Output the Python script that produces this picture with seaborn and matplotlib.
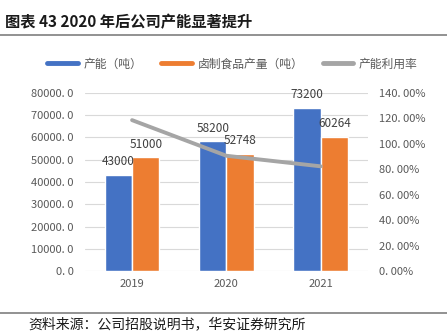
import matplotlib
matplotlib.use("Agg")
import matplotlib.pyplot as plt
import seaborn as sns
import pandas as pd
from matplotlib.lines import Line2D

years = ["2019", "2020", "2021"]
capacity = [43000, 58200, 73200]
production = [51000, 52748, 60264]
utilization = [118.6, 90.6, 82.3]
series_names = ["产能（吨）", "卤制食品产量（吨）", "产能利用率"]
left_ticks = [0, 10000, 20000, 30000, 40000, 50000, 60000, 70000, 80000]
right_ticks = [0, 20, 40, 60, 80, 100, 120, 140]

sns.set_style("white")
plt.rcParams['font.family'] = ['Noto Sans CJK SC', 'DejaVu Sans']

blue = "#4472C4"
orange = "#ED7D31"
gray = "#A5A5A5"
tick_color = "#595959"

df = pd.DataFrame({
    "year": years * 2,
    "value": capacity + production,
    "series": [series_names[0]] * 3 + [series_names[1]] * 3,
})

fig = plt.figure(figsize=(4.47, 3.33), dpi=100)
ax = fig.add_axes([0.19, 0.186, 0.633, 0.535])

sns.barplot(data=df, x="year", y="value", hue="series", palette=[blue, orange],
            width=0.58, ax=ax, legend=False, saturation=1)
ax.set_ylim(0, 80000)
ax.set_xlim(-0.5, 2.5)
ax.set_yticks(left_ticks)
ax.set_yticklabels([f"{v}. 0" for v in left_ticks])
ax.set_xlabel("")
ax.set_ylabel("")
ax.yaxis.grid(True, color="#D9D9D9", linewidth=0.8)
ax.set_axisbelow(True)
for s in ax.spines.values():
    s.set_visible(False)
ax.tick_params(axis="both", length=0, colors=tick_color, labelsize=8, pad=8)
ax.tick_params(axis="x", pad=6)

for container in ax.containers:
    for bar in container:
        h = bar.get_height()
        ax.annotate(f"{int(h)}", (bar.get_x() + bar.get_width() / 2, h),
                    xytext=(0, 5), textcoords="offset points",
                    ha="center", va="bottom", fontsize=8.5, color="#404040")

ax2 = ax.twinx()
sns.lineplot(x=[0, 1, 2], y=utilization, ax=ax2, color=gray, linewidth=2.8)
ax2.set_ylim(0, 140)
ax2.set_yticks(right_ticks)
ax2.set_yticklabels([f"{v}. 00%" for v in right_ticks])
for s in ax2.spines.values():
    s.set_visible(False)
ax2.tick_params(axis="y", length=0, colors=tick_color, labelsize=8, pad=8)
ax2.set_ylabel("")

handles = [Line2D([], [], color=blue, linewidth=3.5),
           Line2D([], [], color=orange, linewidth=3.5),
           Line2D([], [], color=gray, linewidth=3.5)]
fig.legend(handles, series_names, loc="center", bbox_to_anchor=(0.52, 0.808),
           ncol=3, frameon=False, fontsize=8.5, handlelength=2.6,
           columnspacing=1.6, handletextpad=0.5, labelcolor=tick_color)

fig.text(0.012, 0.933, "图表 43 2020 年后公司产能显著提升", fontsize=11,
         fontweight="bold", ha="left", va="center", color="#1a1a1a")
fig.add_artist(Line2D([0, 1], [0.895, 0.895], color="#7f7f7f", linewidth=1.2,
                      transform=fig.transFigure))
fig.add_artist(Line2D([0, 1], [0.06, 0.06], color="#7f7f7f", linewidth=1.2,
                      transform=fig.transFigure))
fig.text(0.063, 0.025, "资料来源：公司招股说明书，华安证券研究所", fontsize=10,
         ha="left", va="center", color="#1a1a1a")

fig.savefig("out.png", dpi=100)
